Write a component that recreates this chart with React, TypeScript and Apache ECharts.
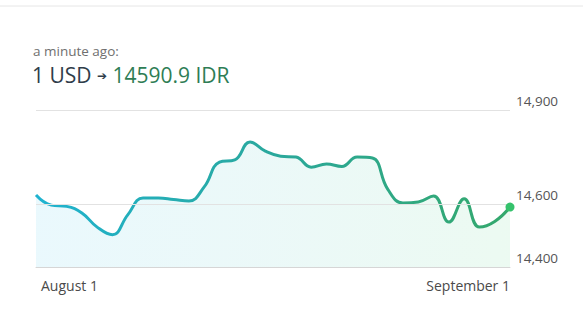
import React, { useEffect, useRef } from "react";
import * as echarts from "echarts";

const dates: string[] = [
  "Aug 1", "Aug 2", "Aug 3", "Aug 4", "Aug 5", "Aug 6", "Aug 7", "Aug 8",
  "Aug 9", "Aug 10", "Aug 11", "Aug 12", "Aug 13", "Aug 14", "Aug 15", "Aug 16",
  "Aug 17", "Aug 18", "Aug 19", "Aug 20", "Aug 21", "Aug 22", "Aug 23", "Aug 24",
  "Aug 25", "Aug 26", "Aug 27", "Aug 28", "Aug 29", "Aug 30", "Aug 31", "Sep 1",
];
const rates: number[] = [
  14629, 14597, 14593, 14572, 14527, 14503, 14566, 14620,
  14620, 14615, 14610, 14655, 14734, 14741, 14798, 14769,
  14753, 14750, 14718, 14728, 14720, 14750, 14747, 14648,
  14604, 14607, 14626, 14543, 14617, 14527, 14545, 14590.9,
];
const xTickLabels: Record<number, string> = { 0: "August 1", 31: "September 1" };
const yTickValues: number[] = [14400, 14600, 14900];
const gridValues: number[] = [14600, 14900];

export default function App() {
  const ref = useRef<HTMLDivElement>(null);
  useEffect(() => {
    if (!ref.current) return;
    const chart = echarts.init(ref.current, undefined, { renderer: "svg" });
    const font = "'Open Sans', 'Noto Sans', sans-serif";
    const last = rates.length - 1;
    chart.setOption({
      animation: false,
      textStyle: { fontFamily: font },
      grid: { left: 36, right: 73, top: 110, bottom: 48 },
      graphic: [
        {
          type: "line",
          shape: { x1: 0, y1: 6, x2: 583, y2: 6 },
          style: { stroke: "#e6e6e6", lineWidth: 1 },
        },
        {
          type: "text",
          left: 33,
          top: 44,
          style: { text: "a minute ago:", fill: "#6f6f6f", font: `13.5px ${font}` },
        },
        {
          type: "text",
          left: 32,
          top: 64,
          style: {
            text: "{a|1 USD }{b|➔}{c| 14590.9 IDR}",
            rich: {
              a: { fill: "#2f3d4a", fontSize: 21, fontFamily: font },
              b: { fill: "#2f3d4a", fontSize: 12, fontFamily: "'DejaVu Sans', sans-serif", padding: [3, 0, 0, 0] },
              c: { fill: "#2e7d55", fontSize: 21, fontFamily: font },
            },
          },
        },
      ],
      xAxis: {
        type: "category",
        data: dates,
        boundaryGap: false,
        axisLine: { show: true, lineStyle: { color: "#d6d6d6", width: 1 } },
        axisTick: { show: false },
        splitLine: { show: false },
        axisLabel: {
          interval: 0,
          margin: 11,
          color: "#4a4a4a",
          fontSize: 14,
          alignMinLabel: "left",
          alignMaxLabel: "right",
          formatter: (_v: string, i: number) =>
            i === 0 ? `{l|${xTickLabels[i]}}` : xTickLabels[i] ?? "",
          rich: {
            l: { padding: [0, 0, 0, 5], fontSize: 14, color: "#4a4a4a" },
          },
        },
      },
      yAxis: {
        type: "value",
        position: "right",
        min: 14400,
        max: 14900,
        interval: 100,
        axisLine: { show: false },
        axisTick: { show: false },
        splitLine: { show: false },
        axisLabel: {
          margin: 6,
          color: "#555555",
          fontSize: 13.5,
          verticalAlign: "bottom",
          padding: [0, 0, 2, 0],
          formatter: (v: number) =>
            yTickValues.includes(v) ? v.toLocaleString("en-US") : "",
        },
      },
      series: [
        {
          type: "line",
          data: rates,
          smooth: 0.45,
          showSymbol: false,
          lineStyle: {
            width: 3,
            color: new echarts.graphic.LinearGradient(0, 0, 1, 0, [
              { offset: 0, color: "#1fb3d0" },
              { offset: 0.5, color: "#2aa89c" },
              { offset: 1, color: "#34a86c" },
            ]),
          },
          areaStyle: {
            origin: "start",
            color: new echarts.graphic.LinearGradient(0, 0, 1, 0, [
              { offset: 0, color: "#e1f6fc" },
              { offset: 0.5, color: "#e3f6f5" },
              { offset: 1, color: "#e4f8ec" },
            ]),
          },
          markLine: {
            silent: true,
            symbol: ["none", "none"],
            label: { show: false },
            lineStyle: { color: "#e2e2e2", type: "solid", width: 1 },
            data: gridValues.map((v) => ({ yAxis: v })),
          },
          markPoint: {
            silent: true,
            symbol: "circle",
            symbolSize: 9,
            label: { show: false },
            itemStyle: { color: "#35c26c" },
            data: [{ coord: [last, rates[last]] }],
          },
        },
      ],
    });
    return () => chart.dispose();
  }, []);
  return (
    <div
      ref={ref}
      style={{ position: "fixed", left: 0, top: 0, width: 583, height: 315, background: "#fff" }}
    />
  );
}
